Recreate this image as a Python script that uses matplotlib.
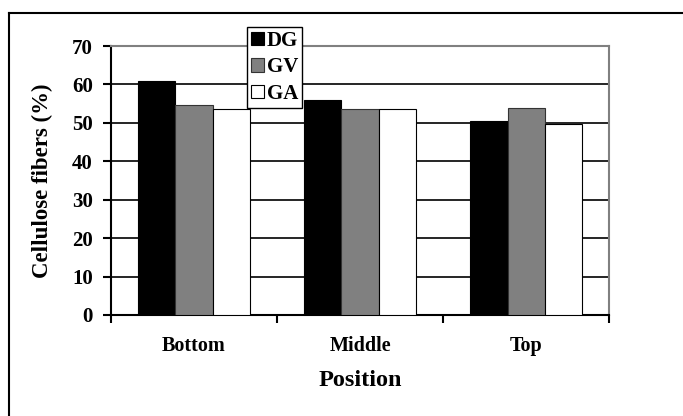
import numpy as np
import matplotlib.pyplot as plt
from matplotlib.lines import Line2D

# Cellulose fibre content by stem position
positions = ['Bottom', 'Middle', 'Top']
dg = [60.8, 55.9, 50.5]
gv = [54.7, 53.6, 53.8]
ga = [53.6, 53.6, 49.7]

plt.rcParams['font.family'] = 'Liberation Serif'
plt.rcParams['font.weight'] = 'bold'

fig = plt.figure(figsize=(6.83, 4.16), dpi=100)
ax = fig.add_axes([0.1625, 0.2428, 0.7292, 0.6466])

x = np.arange(len(positions))
w = 0.223
ax.bar(x - w, dg, w, color='black', edgecolor='black', linewidth=0.8, label='DG', zorder=3)
ax.bar(x, gv, w, color='#808080', edgecolor='#333333', linewidth=0.8, label='GV', zorder=3)
ax.bar(x + w, ga, w, color='white', edgecolor='black', linewidth=0.8, label='GA', zorder=3)

ax.set_xlim(-0.5, 2.5)
ax.set_ylim(0, 70)
ax.set_yticks(np.arange(0, 71, 10))
ax.yaxis.grid(True, color='black', linewidth=1.2, zorder=0)
ax.set_axisbelow(True)

# ticks at the category boundaries, labels at the centres
ax.set_xticks([-0.5, 0.5, 1.5, 2.5])
ax.set_xticklabels([])
ax.set_xticks(x, minor=True)
ax.set_xticklabels(positions, minor=True, fontsize=14.5, fontweight='bold')
ax.tick_params(axis='x', which='minor', length=0, pad=15)
ax.tick_params(axis='x', which='major', length=6, width=1.5, direction='out')
ax.tick_params(axis='y', length=6, width=1.5, direction='out', pad=7, labelsize=15)

for side in ('left', 'bottom'):
    ax.spines[side].set_linewidth(1.5)
    ax.spines[side].set_color('black')
for side in ('top', 'right'):
    ax.spines[side].set_linewidth(1.5)
    ax.spines[side].set_color('#808080')

ax.set_ylabel('Cellulose fibers (%)', fontsize=16.5, fontweight='bold', labelpad=14)
ax.set_xlabel('Position', fontsize=17.5, fontweight='bold', labelpad=10)

leg = ax.legend(loc='upper left', bbox_to_anchor=(0.273, 1.071), borderaxespad=0,
                fancybox=False, framealpha=1, edgecolor='black',
                handlelength=0.6, handleheight=0.6, handletextpad=0.15,
                borderpad=0.2, labelspacing=0.3, prop={'weight': 'bold', 'size': 15})
leg.get_frame().set_linewidth(1.0)
leg.set_zorder(5)

# outer frame of the chart area
fig.add_artist(Line2D([9 / 683, 1], [1 - 13 / 416, 1 - 13 / 416], color='black', linewidth=1.5))
fig.add_artist(Line2D([9 / 683, 9 / 683], [0, 1 - 13 / 416], color='black', linewidth=1.5))

fig.savefig('out.png', dpi=100)
